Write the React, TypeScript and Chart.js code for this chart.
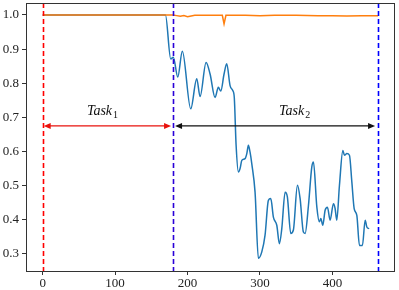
import React, { useEffect, useRef } from "react";
import { Chart, registerables } from "chart.js";

Chart.register(...registerables);

// ---- data ----
const orangeX = [0, 180, 185, 190, 195, 200, 205, 210, 230, 248, 250.4, 253, 280, 300, 320, 350, 380, 400, 420, 440, 463];
const orangeY = [1.0, 1.0, 0.998, 0.996, 0.998, 0.995, 0.997, 0.999, 0.999, 0.999, 0.974, 0.999, 0.999, 0.998, 0.999, 0.999, 0.998, 0.998, 0.997, 0.998, 0.998];

const blueX = [0, 169.5, 176.8, 180.4, 186.5, 192.8, 204.4, 212.7, 217.3, 225.6, 231.1, 238, 242.5, 245.9, 250.4, 254.1, 258.7, 262.4, 264.5, 267, 270.2, 272.5, 274.9, 279.4, 281.8, 284, 286.3, 288.7, 293.2, 297.8, 302.5, 307, 311.6, 314.9, 318.5, 323.2, 326.8, 330.1, 334.7, 337.8, 342.5, 346.1, 351.7, 355.4, 359.9, 362.3, 366.9, 371.5, 373.8, 378.5, 382, 384, 386.7, 389.9, 393.1, 396.8, 401.4, 403.7, 406, 409.7, 414.4, 416.6, 419.9, 423.5, 426.8, 430, 433.7, 437.3, 441.4, 445.2, 447.5, 450.7];
const blueY = [1.0, 1.0, 0.871, 0.876, 0.818, 0.894, 0.725, 0.813, 0.761, 0.861, 0.827, 0.758, 0.788, 0.777, 0.827, 0.857, 0.793, 0.779, 0.759, 0.62, 0.54, 0.55, 0.574, 0.579, 0.594, 0.618, 0.598, 0.564, 0.481, 0.287, 0.306, 0.355, 0.457, 0.462, 0.408, 0.384, 0.33, 0.374, 0.481, 0.467, 0.36, 0.37, 0.501, 0.462, 0.364, 0.36, 0.442, 0.554, 0.569, 0.437, 0.394, 0.404, 0.384, 0.428, 0.437, 0.399, 0.447, 0.433, 0.399, 0.501, 0.603, 0.589, 0.594, 0.589, 0.511, 0.433, 0.413, 0.325, 0.325, 0.399, 0.379, 0.374];

const xTicks = [0, 100, 200, 300, 400];
const yTicks = [0.3, 0.4, 0.5, 0.6, 0.7, 0.8, 0.9, 1.0];

const boundaries = [0, 180, 463];
const arrowY = 0.675;
const taskLabels = ["1", "2"];
const taskLabelX = [82.6, 347.8];
const taskLabelY = 0.706;

const X_MIN = -23;
const X_MAX = 485;
const Y_MIN = 0.25;
const Y_MAX = 1.035;

const SERIF = "'Liberation Serif', 'Times New Roman', serif";

function drawArrow(ctx: CanvasRenderingContext2D, x1: number, x2: number, y: number, color: string) {
  const hl = 7;
  const hw = 3;
  ctx.save();
  ctx.strokeStyle = color;
  ctx.fillStyle = color;
  ctx.lineWidth = 1.3;
  ctx.beginPath();
  ctx.moveTo(x1 + hl - 1, y);
  ctx.lineTo(x2 - hl + 1, y);
  ctx.stroke();
  ctx.beginPath();
  ctx.moveTo(x1, y);
  ctx.lineTo(x1 + hl, y - hw);
  ctx.lineTo(x1 + hl, y + hw);
  ctx.closePath();
  ctx.fill();
  ctx.beginPath();
  ctx.moveTo(x2, y);
  ctx.lineTo(x2 - hl, y - hw);
  ctx.lineTo(x2 - hl, y + hw);
  ctx.closePath();
  ctx.fill();
  ctx.restore();
}

const overlayPlugin = {
  id: "overlay",
  afterDatasetsDraw(chart: any) {
    const { ctx, chartArea, scales } = chart;
    const xs = scales.x;
    const ys = scales.y;
    ctx.save();
    const lineColors = ["#ff0000", "#2a00d8", "#0000ff"];
    boundaries.forEach((b, i) => {
      const px = Math.round(xs.getPixelForValue(b)) + 0.5;
      ctx.beginPath();
      ctx.setLineDash([5, 3]);
      ctx.lineWidth = 1.6;
      ctx.strokeStyle = lineColors[i];
      ctx.moveTo(px, chartArea.top);
      ctx.lineTo(px, chartArea.bottom);
      ctx.stroke();
    });
    ctx.setLineDash([]);
    const ay = ys.getPixelForValue(arrowY);
    const p0 = xs.getPixelForValue(boundaries[0]);
    const p1 = xs.getPixelForValue(boundaries[1]);
    const p2 = xs.getPixelForValue(boundaries[2]);
    drawArrow(ctx, p0 + 1, p1 - 2, ay, "#e8120c");
    drawArrow(ctx, p1 + 2, p2 - 3, ay, "#111111");

    const ly = ys.getPixelForValue(taskLabelY);
    taskLabels.forEach((sub, i) => {
      const cx = xs.getPixelForValue(taskLabelX[i]);
      ctx.font = `italic 14px ${SERIF}`;
      const w1 = ctx.measureText("Task").width;
      ctx.font = `10px ${SERIF}`;
      const w2 = ctx.measureText(sub).width;
      const total = w1 + 1 + w2;
      const left = cx - total / 2;
      ctx.fillStyle = "#111";
      ctx.textBaseline = "alphabetic";
      ctx.textAlign = "left";
      ctx.font = `italic 14px ${SERIF}`;
      ctx.fillText("Task", left, ly);
      ctx.font = `10px ${SERIF}`;
      ctx.fillText(sub, left + w1 + 1, ly + 2.5);
    });
    ctx.restore();
  },
  afterDraw(chart: any) {
    const { ctx, chartArea } = chart;
    ctx.save();
    ctx.strokeStyle = "#333";
    ctx.lineWidth = 1;
    ctx.strokeRect(
      Math.round(chartArea.left) + 0.5,
      Math.round(chartArea.top) + 0.5,
      Math.round(chartArea.right - chartArea.left),
      Math.round(chartArea.bottom - chartArea.top)
    );
    ctx.restore();
  },
};

export default function App() {
  const ref = useRef<HTMLCanvasElement | null>(null);
  useEffect(() => {
    if (!ref.current) return;
    const chart = new Chart(ref.current, {
      type: "line",
      data: {
        datasets: [
          {
            data: orangeX.map((x, i) => ({ x, y: orangeY[i] })),
            borderColor: "#ff7f0e",
            borderWidth: 1.5,
            pointRadius: 0,
            tension: 0,
            fill: false,
          },
          {
            data: blueX.map((x, i) => ({ x, y: blueY[i] })),
            borderColor: "#1f77b4",
            borderWidth: 1.5,
            pointRadius: 0,
            cubicInterpolationMode: "monotone",
            fill: false,
          },
        ],
      },
      options: {
        animation: false,
        responsive: false,
        events: [],
        layout: { padding: { top: 3, right: 5, left: 0, bottom: 0 } },
        plugins: { legend: { display: false }, tooltip: { enabled: false } },
        scales: {
          x: {
            type: "linear",
            min: X_MIN,
            max: X_MAX,
            afterBuildTicks: (s: any) => {
              s.ticks = xTicks.map((v) => ({ value: v }));
            },
            afterFit: (s: any) => {
              s.height = 19;
              s.paddingLeft = 0;
              s.paddingRight = 0;
            },
            grid: { drawOnChartArea: false, drawTicks: true, tickLength: 4, color: "#333" },
            border: { color: "#333" },
            ticks: {
              font: { family: SERIF, size: 13 },
              color: "#222",
              padding: 1,
              maxRotation: 0,
              callback: (v: any) => String(v),
            },
          },
          y: {
            type: "linear",
            min: Y_MIN,
            max: Y_MAX,
            afterBuildTicks: (s: any) => {
              s.ticks = yTicks.map((v) => ({ value: v }));
            },
            afterFit: (s: any) => {
              s.width = 26;
              s.paddingTop = 0;
              s.paddingBottom = 0;
            },
            grid: { drawOnChartArea: false, drawTicks: true, tickLength: 4, color: "#333" },
            border: { color: "#333" },
            ticks: {
              font: { family: SERIF, size: 13 },
              color: "#222",
              padding: 3,
              callback: (v: any) => Number(v).toFixed(1),
            },
          },
        },
      },
      plugins: [overlayPlugin],
    });
    return () => chart.destroy();
  }, []);
  return (
    <div style={{ position: "absolute", left: 0, top: 0, width: 399, height: 290, background: "#fff" }}>
      <canvas ref={ref} width={399} height={290} style={{ display: "block" }} />
    </div>
  );
}
